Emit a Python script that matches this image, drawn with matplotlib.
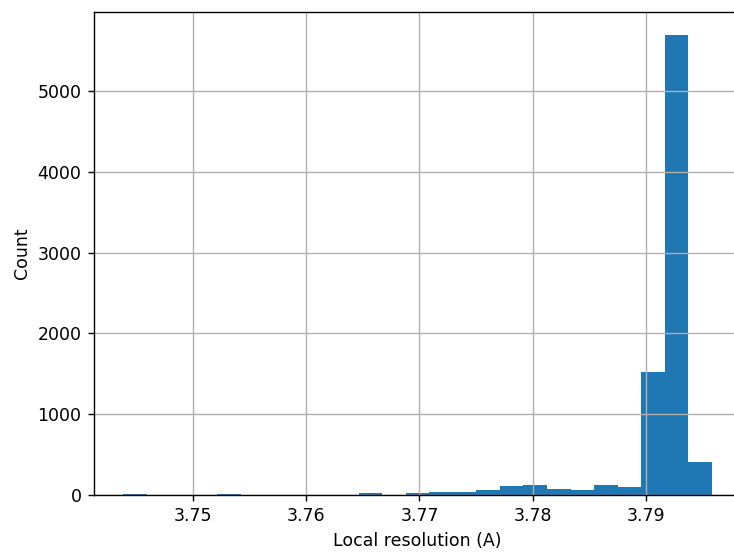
#!/usr/bin/env python3
"""Histogram of local resolution values."""

import matplotlib

matplotlib.use("Agg")
import matplotlib.pyplot as plt
import numpy as np

# range of the data and counts per bin (25 bins)
res_min = 3.74383
res_max = 3.79582
counts = [
    2, 0, 0, 0, 12, 0, 0, 0, 0, 0,
    15, 0, 22, 33, 33, 55, 100, 118, 70, 54,
    118, 98, 1521, 5700, 400,
]

edges = np.linspace(res_min, res_max, len(counts) + 1)

dpi = 125
fig = plt.figure(figsize=(734 / dpi, 552 / dpi), dpi=dpi)
# the original axes runs past the right edge of the saved image
ax = fig.add_axes([93.7 / 734, 57.5 / 552, 700 / 734, 482.5 / 552])
ax.hist(edges[:-1], bins=edges, weights=counts, color="#1f77b4")
ax.grid(True)
ax.set_xlabel("Local resolution (A)")
ax.set_ylabel("Count")
ax.set_xticks([3.75, 3.76, 3.77, 3.78, 3.79])
span = res_max - res_min
left = res_min - 0.05 * span
ax.set_xlim(left, left + 1.1 * span * 700 / 647.6)
ax.xaxis.label.set_x(((647.6 / 2) / 700))

fig.savefig("out.png", dpi=dpi)
